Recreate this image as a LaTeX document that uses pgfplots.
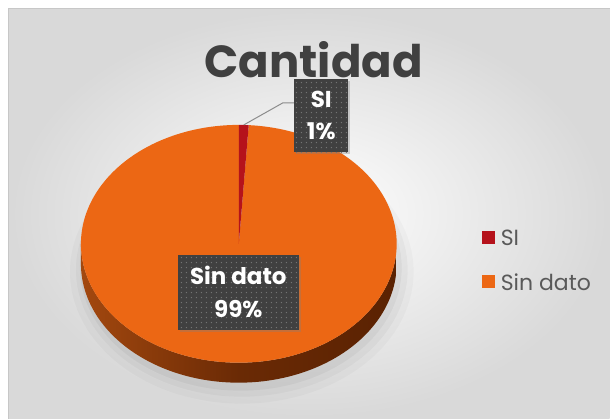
\documentclass[border=0pt]{standalone}
\usepackage{pgfplots}
\pgfplotsset{compat=1.18}
\usepackage{fontspec}
\setmainfont{Poppins}
\usetikzlibrary{patterns.meta,shadows}
\definecolor{cRed}{HTML}{B5121B}
\definecolor{cOr}{HTML}{EC6714}
\definecolor{sideL}{HTML}{A3480F}
\definecolor{sideM}{HTML}{6A2A05}
\definecolor{sideR}{HTML}{5A2202}
\definecolor{boxc}{HTML}{404040}
\definecolor{titc}{HTML}{404040}
\definecolor{legc}{HTML}{595959}
\pgfdeclarepattern{name=boxdots, type=uncolored,
  bottom left={\pgfpoint{0pt}{0pt}}, top right={\pgfpoint{5pt}{5pt}},
  tile size={\pgfpoint{5pt}{5pt}},
  code={\pgfpathcircle{\pgfpoint{2.5pt}{2.5pt}}{0.75pt}\pgfusepath{fill}}}
\def\valSI{1}
\def\valSD{99}
\begin{document}
\begin{tikzpicture}
\pgfmathsetmacro{\aA}{90}
\pgfmathsetmacro{\aB}{90-(360/(\valSI+\valSD))*\valSI}
\pgfmathsetmacro{\aC}{\aB-(360/(\valSI+\valSD))*\valSD}
\begin{axis}[width=610pt, height=419pt, scale only axis,
  xmin=0, xmax=610, ymin=0, ymax=419, y dir=reverse,
  hide axis, clip=false]
% background
\fill[white] (axis cs:0,0) rectangle (axis cs:610,419);
\shade[inner color=white, outer color=black!15] (axis cs:9,9) rectangle (axis cs:610,419);
\draw[black!22, line width=1pt] (axis cs:9,419) -- (axis cs:9,9) -- (axis cs:610,9);
% shadow
\addplot[fill=black, opacity=0.025, draw=none, domain=0:360, samples=120, variable=\t] ({242+172*cos(\t)},{272-132*sin(\t)}) -- cycle;
\addplot[fill=black, opacity=0.03, draw=none, domain=0:360, samples=120, variable=\t] ({242+166*cos(\t)},{270-127*sin(\t)}) -- cycle;
\addplot[fill=black, opacity=0.04, draw=none, domain=0:360, samples=120, variable=\t] ({241+161*cos(\t)},{268-123*sin(\t)}) -- cycle;
% side
\addplot[draw=none, left color=sideL, right color=sideR, middle color=sideM, domain=0:2, samples=201, variable=\t]
  ({239+158*cos(\t<=1 ? 180+180*\t : 540-180*\t)}, {244-119*sin(\t<=1 ? 180+180*\t : 540-180*\t) + (\t<=1 ? 0 : 20)}) -- cycle;
% top face
\addplot[fill=cOr, draw=none, domain=\aC:\aB, samples=300, variable=\t] ({239+158*cos(\t)},{244-119*sin(\t)}) -- (axis cs:239,244) -- cycle;
\addplot[fill=cRed, draw=none, domain=\aB:\aA, samples=10, variable=\t] ({239+158*cos(\t)},{244-119*sin(\t)}) -- (axis cs:239,244) -- cycle;
% title
\node[text=titc, font=\fontsize{45}{50}\selectfont\bfseries] at (axis cs:314,60) {Cantidad};
% leader line
\draw[black!45, line width=1pt] (axis cs:244,125) -- (axis cs:283,103) -- (axis cs:295,103);
% labels
\node[fill=boxc, postaction={pattern={boxdots}, pattern color=black!55!white}, drop shadow={opacity=0.35, shadow xshift=2pt, shadow yshift=-2pt},
  minimum width=54pt, minimum height=73pt, inner sep=0pt, text=white, align=center,
  font=\fontsize{23}{32}\selectfont\bfseries] at (axis cs:321.5,116) {SI\\1\%};
\node[fill=boxc, postaction={pattern={boxdots}, pattern color=black!55!white}, drop shadow={opacity=0.35, shadow xshift=2pt, shadow yshift=-2pt},
  minimum width=121pt, minimum height=75pt, inner sep=0pt, text=white, align=center,
  font=\fontsize{23}{33}\selectfont\bfseries] at (axis cs:238.5,292.5) {Sin dato\\99\%};
% legend
\fill[cRed] (axis cs:482,231) rectangle (axis cs:495,244);
\fill[cOr] (axis cs:482,275) rectangle (axis cs:495,288);
\node[anchor=west, text=legc, font=\fontsize{22}{24}\selectfont, inner sep=0pt] at (axis cs:501,238) {SI};
\node[anchor=west, text=legc, font=\fontsize{22}{24}\selectfont, inner sep=0pt] at (axis cs:501,282) {Sin dato};
\end{axis}
\end{tikzpicture}
\end{document}
